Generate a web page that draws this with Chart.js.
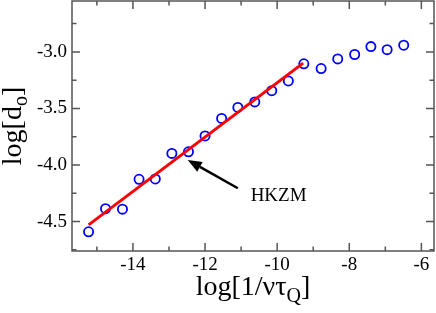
<!DOCTYPE html>
<html>
<head>
<meta charset="utf-8">
<script src="https://cdn.jsdelivr.net/npm/chart.js@4/dist/chart.umd.min.js"></script>
<style>
html,body{margin:0;padding:0;background:#fff;}
#c{display:block;}
</style>
</head>
<body>
<canvas id="c" width="436" height="313" style="width:436px;height:313px"></canvas>
<script>
// ---- data ----
const xValues = [-15.23,-14.76,-14.29,-13.83,-13.38,-12.92,-12.46,-12.00,-11.54,-11.09,-10.62,-10.15,-9.69,-9.26,-8.78,-8.32,-7.85,-7.40,-6.95,-6.49];
const yValues = [-4.59,-4.386,-4.39,-4.126,-4.123,-3.897,-3.883,-3.743,-3.588,-3.491,-3.442,-3.343,-3.257,-3.105,-3.147,-3.062,-3.023,-2.953,-2.98,-2.941];
const fitX = [-15.23, -9.28];
const fitY = [-4.529, -3.099];
const xMajorTicks = [-14,-12,-10,-8,-6];
const xMinorTicks = [-15,-13,-11,-9,-7];
const yMajorTicks = [-4.5,-4.0,-3.5,-3.0];
const yMinorTicks = [-4.75,-4.25,-3.75,-3.25,-2.75];
const xRange = [-15.69, -5.65];
const yRange = [-4.76, -2.55];
const arrowTail = [-11.09, -4.205];
const arrowHead = [-12.48, -3.956];
const annotationText = 'HKZM';
const annotationPos = [-9.96, -4.27];

const SERIF = "'Liberation Serif','DejaVu Serif',serif";

const decor = {
  id: 'decor',
  afterDraw(chart) {
    const ctx = chart.ctx, a = chart.chartArea;
    const xs = chart.scales.x, ys = chart.scales.y;
    ctx.save();
    // frame
    ctx.strokeStyle = '#555';
    ctx.lineWidth = 1.5;
    ctx.strokeRect(a.left, a.top, a.right - a.left, a.bottom - a.top);
    // inward ticks
    const tick = (vals, len, horiz) => {
      vals.forEach(v => {
        ctx.beginPath();
        if (horiz) {
          const px = xs.getPixelForValue(v);
          ctx.moveTo(px, a.bottom); ctx.lineTo(px, a.bottom - len);
          ctx.moveTo(px, a.top); ctx.lineTo(px, a.top + len);
        } else {
          const py = ys.getPixelForValue(v);
          ctx.moveTo(a.left, py); ctx.lineTo(a.left + len, py);
          ctx.moveTo(a.right, py); ctx.lineTo(a.right - len, py);
        }
        ctx.stroke();
      });
    };
    tick(xMajorTicks, 8, true);
    tick(xMinorTicks, 4.5, true);
    tick(yMajorTicks, 8, false);
    tick(yMinorTicks, 4.5, false);

    // arrow
    const tx = xs.getPixelForValue(arrowTail[0]), ty = ys.getPixelForValue(arrowTail[1]);
    const hx = xs.getPixelForValue(arrowHead[0]), hy = ys.getPixelForValue(arrowHead[1]);
    const ang = Math.atan2(hy - ty, hx - tx);
    const hl = 14, hw = 5.5;
    const bx = hx - hl * Math.cos(ang), by = hy - hl * Math.sin(ang);
    ctx.strokeStyle = '#000';
    ctx.fillStyle = '#000';
    ctx.lineWidth = 2.5;
    ctx.beginPath();
    ctx.moveTo(tx, ty); ctx.lineTo(bx, by);
    ctx.stroke();
    ctx.beginPath();
    ctx.moveTo(hx, hy);
    ctx.lineTo(bx + hw * Math.sin(ang), by - hw * Math.cos(ang));
    ctx.lineTo(bx - hw * Math.sin(ang), by + hw * Math.cos(ang));
    ctx.closePath();
    ctx.fill();

    // annotation text
    ctx.font = '19px ' + SERIF;
    ctx.textAlign = 'center';
    ctx.textBaseline = 'middle';
    ctx.fillText(annotationText, xs.getPixelForValue(annotationPos[0]), ys.getPixelForValue(annotationPos[1]));

    // axis titles with subscripts
    const drawTitle = (parts, cx, cy, rot) => {
      ctx.save();
      ctx.translate(cx, cy);
      ctx.rotate(rot);
      ctx.textAlign = 'left';
      ctx.textBaseline = 'alphabetic';
      let total = 0;
      parts.forEach(p => { ctx.font = p.size + 'px ' + SERIF; total += ctx.measureText(p.t).width; });
      let x = -total / 2;
      parts.forEach(p => {
        ctx.font = p.size + 'px ' + SERIF;
        ctx.fillText(p.t, x, p.dy);
        x += ctx.measureText(p.t).width;
      });
      ctx.restore();
    };
    drawTitle([
      {t:'log[1/\u03BD\u03C4', size:28, dy:0},
      {t:'Q', size:20, dy:7},
      {t:']', size:28, dy:0}
    ], (a.left + a.right) / 2, 295, 0);
    drawTitle([
      {t:'log[d', size:28, dy:0},
      {t:'o', size:20, dy:6},
      {t:']', size:28, dy:0}
    ], 21, (a.top + a.bottom) / 2, -Math.PI / 2);
    ctx.restore();
  }
};

new Chart(document.getElementById('c'), {
  type: 'scatter',
  data: {
    datasets: [
      {
        type: 'line',
        data: fitX.map((x, i) => ({x, y: fitY[i]})),
        borderColor: '#ff0000',
        borderWidth: 3,
        pointRadius: 0,
        fill: false
      },
      {
        data: xValues.map((x, i) => ({x, y: yValues[i]})),
        pointStyle: 'circle',
        pointRadius: 4.6,
        borderWidth: 1.8,
        borderColor: '#0000ff',
        backgroundColor: 'rgba(0,0,0,0)',
        showLine: false
      }
    ]
  },
  options: {
    responsive: false,
    animation: false,
    devicePixelRatio: 1,
    layout: { autoPadding: false, padding: { top: 1, right: 2, left: 0, bottom: 0 } },
    plugins: { legend: { display: false }, tooltip: { enabled: false } },
    scales: {
      x: {
        type: 'linear',
        min: xRange[0], max: xRange[1],
        grid: { display: false, drawTicks: false },
        border: { display: false },
        afterBuildTicks: s => { s.ticks = xMajorTicks.map(v => ({value: v})); },
        afterFit: s => { s.height = 62; s.paddingLeft = 0; s.paddingRight = 0; },
        ticks: {
          autoSkip: false, maxRotation: 0,
          padding: 3,
          color: '#000',
          font: { family: SERIF, size: 19 },
          callback: v => String(v)
        }
      },
      y: {
        type: 'linear',
        min: yRange[0], max: yRange[1],
        grid: { display: false, drawTicks: false },
        border: { display: false },
        afterBuildTicks: s => { s.ticks = yMajorTicks.map(v => ({value: v})); },
        afterFit: s => { s.width = 72; s.paddingTop = 0; s.paddingBottom = 0; },
        ticks: {
          autoSkip: false,
          padding: 5,
          color: '#000',
          font: { family: SERIF, size: 19 },
          callback: v => Number(v).toFixed(1)
        }
      }
    }
  },
  plugins: [decor]
});
</script>
</body>
</html>
